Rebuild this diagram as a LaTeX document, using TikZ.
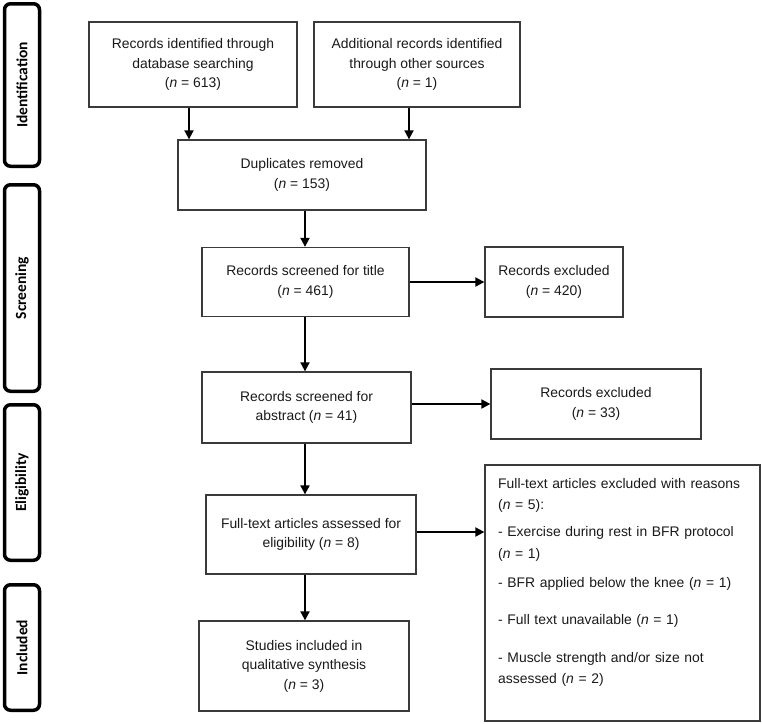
\documentclass[tikz,border=0pt]{standalone}
\usepackage{fontspec}
\setmainfont{Liberation Sans}
\newfontfamily\sidefont{Carlito}
\usetikzlibrary{arrows.meta}
\definecolor{boxline}{HTML}{3A3A3A}
\definecolor{txt}{HTML}{1A1A1A}
\begin{document}
\begin{tikzpicture}[x=1pt,y=-1pt,
  flowbox/.style={draw=boxline, line width=1.3pt, rectangle, align=center, inner sep=2pt,
    text=txt, font=\fontsize{13.9}{19.5}\selectfont},
  sidebar/.style={draw=black, line width=3.5pt, rounded corners=6pt, rectangle,
    minimum width=35pt, inner sep=0pt},
  sidetext/.style={rotate=90, font=\sidefont\bfseries\fontsize{15.5}{18}\selectfont},
  arr/.style={line width=1.9pt, -{Triangle[length=9pt,width=9pt]}}
]
\useasboundingbox[fill=white] (0,0) rectangle (762,723);

% side bars
\node[sidebar, minimum height=162.5pt] (sbident) at (22,85) {};
\node[sidetext] (tident) at (sbident.center) {Identification};
\node[sidebar, minimum height=206.5pt] (sbscr) at (22,288) {};
\node[sidetext] (tscr) at (sbscr.center) {Screening};
\node[sidebar, minimum height=155.5pt] (sbelig) at (22,482.5) {};
\node[sidetext] (telig) at (sbelig.center) {Eligibility};
\node[sidebar, minimum height=125.5pt] (sbincl) at (22,647.5) {};
\node[sidetext] (tincl) at (sbincl.center) {Included};

% flow boxes
\node[flowbox, minimum width=208pt, minimum height=85pt] (rec) at (193,64.5)
  {Records identified through\\database searching\\(\textit{n} = 613)};
\node[flowbox, minimum width=206pt, minimum height=85pt] (add) at (417,64.5)
  {Additional records identified\\through other sources\\(\textit{n} = 1)};
\node[flowbox, minimum width=248pt, minimum height=70pt] (dup) at (302,175)
  {Duplicates removed\\(\textit{n} = 153)};
\node[flowbox, minimum width=207pt, minimum height=69pt] (title) at (305.5,282)
  {Records screened for title\\(\textit{n} = 461)};
\node[flowbox, minimum width=138pt, minimum height=70pt] (exone) at (554,282)
  {Records excluded\\(\textit{n} = 420)};
\node[flowbox, minimum width=209pt, minimum height=71pt] (abs) at (306.5,407.5)
  {Records screened for\\abstract (\textit{n} = 41)};
\node[flowbox, minimum width=210pt, minimum height=70pt] (extwo) at (596,404)
  {Records excluded\\(\textit{n} = 33)};
\node[flowbox, minimum width=210pt, minimum height=79pt] (elig) at (311,534.5)
  {Full-text articles assessed for\\eligibility (\textit{n} = 8)};
\node[flowbox, minimum width=210pt, minimum height=90pt] (incl) at (304,666)
  {Studies included in\\qualitative synthesis\\(\textit{n} = 3)};
\node[flowbox, minimum width=275pt, minimum height=256pt] (reasons) at (622.5,593) {};
\node[anchor=north west, inner sep=0pt, text width=262pt, align=left, text=txt,
  font=\fontsize{13.9}{21.5}\selectfont] (reasontext) at (498,478)
  {Full-text articles excluded with reasons\\
   (\textit{n} = 5):\\[5.5pt]
   - Exercise during rest in BFR protocol\\
   (\textit{n} = 1)\\[7.5pt]
   - BFR applied below the knee (\textit{n} = 1)\\[15.5pt]
   - Full text unavailable (\textit{n} = 1)\\[16.5pt]
   - Muscle strength and/or size not\\
   assessed (\textit{n} = 2)};

\coordinate (col) at (305,0);

% connectors
\draw[arr] ([xshift=-4pt]rec.south) -- ([xshift=-4pt]rec.south |- dup.north);
\draw[arr] ([xshift=-8pt]add.south) -- ([xshift=-8pt]add.south |- dup.north);
\draw[arr] (col |- dup.south) -- (col |- title.north);
\draw[arr] (title.east) -- (title.east -| exone.west);
\draw[arr] (col |- title.south) -- (col |- abs.north);
\draw[arr] (extwo.west -| abs.east) -- (extwo.west);
\draw[arr] (col |- abs.south) -- (col |- elig.north);
\draw[arr] ([yshift=2.5pt]elig.east) -- ([yshift=2.5pt]elig.east -| reasons.west);
\draw[arr] (col |- elig.south) -- (col |- incl.north);
\end{tikzpicture}
\end{document}
